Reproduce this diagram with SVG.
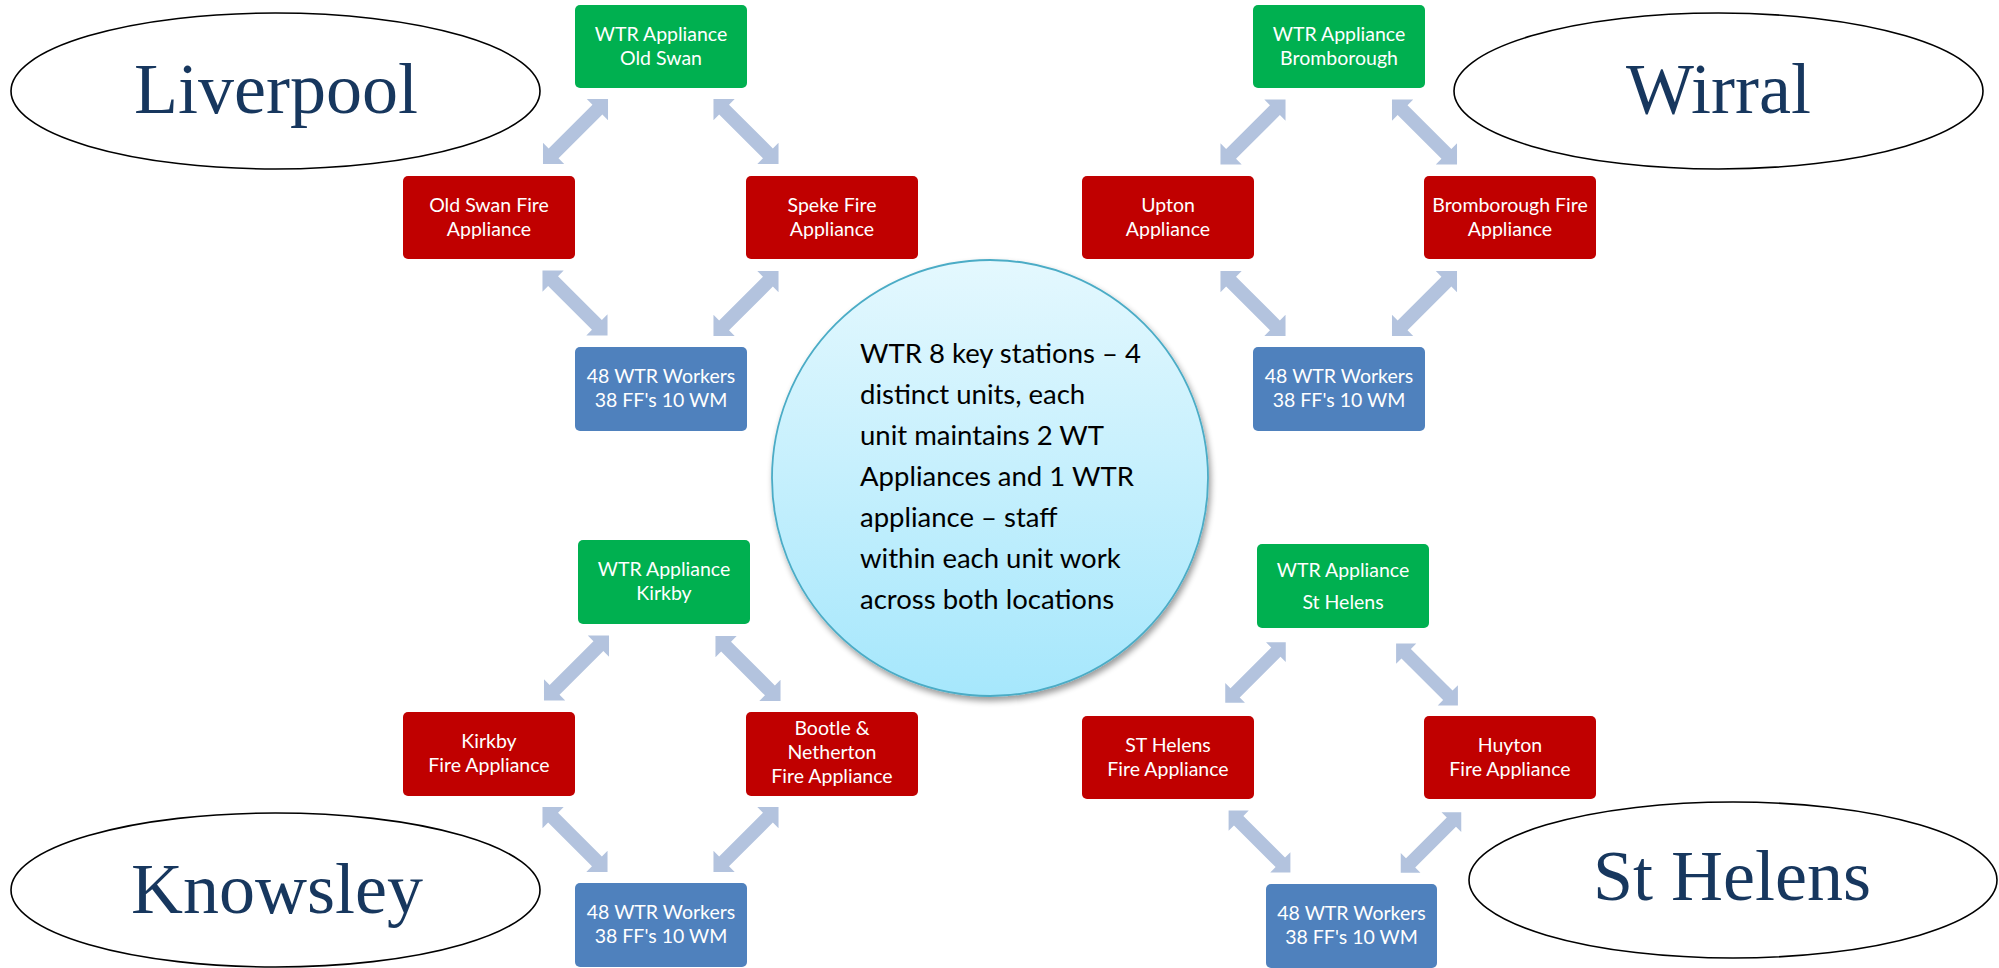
<svg xmlns="http://www.w3.org/2000/svg" xmlns:xlink="http://www.w3.org/1999/xlink" width="1999" height="968" viewBox="0 0 1999 968">
<style>
.g{fill:#00B050}
.r{fill:#C00000}
.b{fill:#4F81BD}
.bt{font-family:Lato,"Liberation Sans",sans-serif;font-size:19.5px;fill:#ffffff;text-anchor:middle}
.ell{fill:#ffffff;stroke:#000000;stroke-width:1.6}
.et{font-family:"Liberation Serif","DejaVu Serif",serif;font-size:72px;fill:#17375E;text-anchor:middle}
.ct{font-family:Lato,"Liberation Sans",sans-serif;font-size:27.5px;fill:#000000}
.arw{fill:#B3C3DE}
</style>
<defs>
<polygon id="arr" points="-46,0 -31,-15 -31,-7 31,-7 31,-15 46,0 31,15 31,7 -31,7 -31,15"/>
<linearGradient id="cg" x1="0" y1="0" x2="0" y2="1">
<stop offset="0" stop-color="#E4F8FE"/>
<stop offset="1" stop-color="#A6E7FC"/>
</linearGradient>
<filter id="sh" x="-10%" y="-10%" width="125%" height="125%">
<feGaussianBlur in="SourceAlpha" stdDeviation="3"/>
<feOffset dx="2" dy="4" result="o"/>
<feComponentTransfer><feFuncA type="linear" slope="0.4"/></feComponentTransfer>
<feMerge><feMergeNode/><feMergeNode in="SourceGraphic"/></feMerge>
</filter>
</defs>
<rect width="1999" height="968" fill="#ffffff"/>

<g id="ellipse-liverpool"><ellipse class="ell" cx="275.5" cy="91" rx="264.5" ry="78"/><text class="et" x="276" y="113">Liverpool</text></g>
<g id="ellipse-wirral"><ellipse class="ell" cx="1718.5" cy="91" rx="264.5" ry="78"/><text class="et" x="1718.5" y="113">Wirral</text></g>
<g id="ellipse-knowsley"><ellipse class="ell" cx="275.5" cy="890" rx="264.5" ry="77"/><text class="et" x="277" y="913">Knowsley</text></g>
<g id="ellipse-sthelens"><ellipse class="ell" cx="1733" cy="880" rx="264" ry="78"/><text class="et" x="1732" y="900">St Helens</text></g>

<g id="connectors" class="arw">
<use xlink:href="#arr" transform="translate(575.5,131.5) rotate(-45)"/>
<use xlink:href="#arr" transform="translate(746,131.5) rotate(45)"/>
<use xlink:href="#arr" transform="translate(575,303) rotate(45)"/>
<use xlink:href="#arr" transform="translate(746,303.5) rotate(-45)"/>
<use xlink:href="#arr" transform="translate(1253,132) rotate(-45)"/>
<use xlink:href="#arr" transform="translate(1424.5,132) rotate(45)"/>
<use xlink:href="#arr" transform="translate(1253,303.5) rotate(45)"/>
<use xlink:href="#arr" transform="translate(1424.5,303.5) rotate(-45)"/>
<use xlink:href="#arr" transform="translate(576.5,668) rotate(-45)"/>
<use xlink:href="#arr" transform="translate(748,668.5) rotate(45)"/>
<use xlink:href="#arr" transform="translate(575,839.5) rotate(45)"/>
<use xlink:href="#arr" transform="translate(746,839.5) rotate(-45)"/>
<use xlink:href="#arr" transform="translate(1255.5,672.5) rotate(-45) scale(0.93)"/>
<use xlink:href="#arr" transform="translate(1427,674.5) rotate(45) scale(0.95)"/>
<use xlink:href="#arr" transform="translate(1259.5,841.5) rotate(45) scale(0.95)"/>
<use xlink:href="#arr" transform="translate(1431,842.5) rotate(-45) scale(0.93)"/>
</g>

<g id="wtr-old-swan"><rect class="g" x="575" y="5" width="172" height="83" rx="5"/><text class="bt" x="661" y="41">WTR Appliance</text><text class="bt" x="661" y="65">Old Swan</text></g>
<g id="old-swan-fire"><rect class="r" x="403" y="176" width="172" height="83" rx="5"/><text class="bt" x="489" y="212">Old Swan Fire</text><text class="bt" x="489" y="236">Appliance</text></g>
<g id="speke-fire"><rect class="r" x="746" y="176" width="172" height="83" rx="5"/><text class="bt" x="832" y="212">Speke Fire</text><text class="bt" x="832" y="236">Appliance</text></g>
<g id="workers-liverpool"><rect class="b" x="575" y="347" width="172" height="84" rx="5"/><text class="bt" x="661" y="383">48 WTR Workers</text><text class="bt" x="661" y="407">38 FF's 10 WM</text></g>

<g id="wtr-bromborough"><rect class="g" x="1253" y="5" width="172" height="83" rx="5"/><text class="bt" x="1339" y="41">WTR Appliance</text><text class="bt" x="1339" y="65">Bromborough</text></g>
<g id="upton"><rect class="r" x="1082" y="176" width="172" height="83" rx="5"/><text class="bt" x="1168" y="212">Upton</text><text class="bt" x="1168" y="236">Appliance</text></g>
<g id="bromborough-fire"><rect class="r" x="1424" y="176" width="172" height="83" rx="5"/><text class="bt" x="1510" y="212">Bromborough Fire</text><text class="bt" x="1510" y="236">Appliance</text></g>
<g id="workers-wirral"><rect class="b" x="1253" y="347" width="172" height="84" rx="5"/><text class="bt" x="1339" y="383">48 WTR Workers</text><text class="bt" x="1339" y="407">38 FF's 10 WM</text></g>

<g id="wtr-kirkby"><rect class="g" x="578" y="540" width="172" height="84" rx="5"/><text class="bt" x="664" y="576">WTR Appliance</text><text class="bt" x="664" y="600">Kirkby</text></g>
<g id="kirkby-fire"><rect class="r" x="403" y="712" width="172" height="84" rx="5"/><text class="bt" x="489" y="748">Kirkby</text><text class="bt" x="489" y="772">Fire Appliance</text></g>
<g id="bootle-fire"><rect class="r" x="746" y="712" width="172" height="84" rx="5"/><text class="bt" x="832" y="735">Bootle &amp;</text><text class="bt" x="832" y="759">Netherton</text><text class="bt" x="832" y="783">Fire Appliance</text></g>
<g id="workers-knowsley"><rect class="b" x="575" y="883" width="172" height="84" rx="5"/><text class="bt" x="661" y="919">48 WTR Workers</text><text class="bt" x="661" y="943">38 FF's 10 WM</text></g>

<g id="wtr-st-helens"><rect class="g" x="1257" y="544" width="172" height="84" rx="5"/><text class="bt" x="1343" y="577">WTR Appliance</text><text class="bt" x="1343" y="609">St Helens</text></g>
<g id="st-helens-fire"><rect class="r" x="1082" y="716" width="172" height="83" rx="5"/><text class="bt" x="1168" y="752">ST Helens</text><text class="bt" x="1168" y="776">Fire Appliance</text></g>
<g id="huyton-fire"><rect class="r" x="1424" y="716" width="172" height="83" rx="5"/><text class="bt" x="1510" y="752">Huyton</text><text class="bt" x="1510" y="776">Fire Appliance</text></g>
<g id="workers-sthelens"><rect class="b" x="1266" y="884" width="171" height="84" rx="5"/><text class="bt" x="1351.5" y="920">48 WTR Workers</text><text class="bt" x="1351.5" y="944">38 FF's 10 WM</text></g>

<g id="center-circle">
<circle cx="990" cy="478" r="218" fill="url(#cg)" stroke="#4BACC6" stroke-width="1.8" filter="url(#sh)"/>
<text class="ct" x="860" y="363">WTR 8 key stations – 4</text>
<text class="ct" x="860" y="404">distinct units, each</text>
<text class="ct" x="860" y="445">unit maintains 2 WT</text>
<text class="ct" x="860" y="486">Appliances and 1 WTR</text>
<text class="ct" x="860" y="527">appliance – staff</text>
<text class="ct" x="860" y="568">within each unit work</text>
<text class="ct" x="860" y="609">across both locations</text>
</g>
</svg>
